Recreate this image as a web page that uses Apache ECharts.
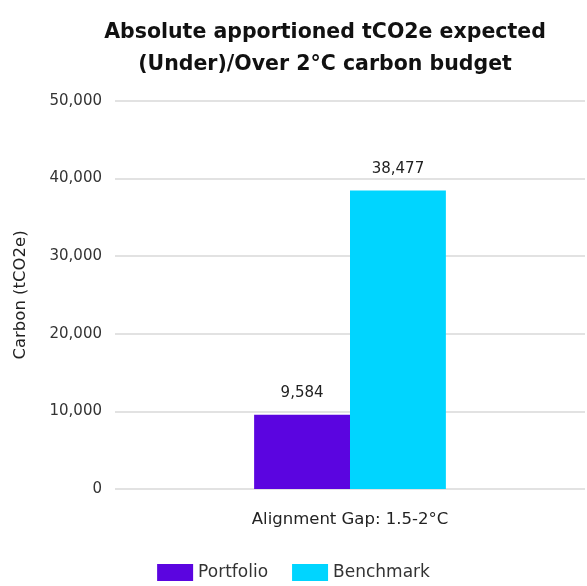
<!DOCTYPE html>
<html>
<head>
<meta charset="utf-8">
<script src="https://cdn.jsdelivr.net/npm/echarts@6/dist/echarts.min.js"></script>
<style>html,body{margin:0;padding:0;background:#fff;}#c{width:587px;height:586px;}</style>
</head>
<body>
<div id="c"></div>
<script>
const categories = ['Alignment Gap: 1.5-2°C'];
const portfolio = [9584];
const benchmark = [38477];
const yTicks = [0, 10000, 20000, 30000, 40000, 50000];

const chart = echarts.init(document.getElementById('c'));
const fmt = v => v.toLocaleString('en-US');
const font = '"DejaVu Sans", sans-serif';
chart.setOption({
  animation: false,
  title: {
    text: 'Absolute apportioned tCO2e expected\n(Under)/Over 2°C carbon budget',
    left: 320, top: 12, textAlign: 'center',
    textStyle: {fontFamily: font, fontWeight: 'bold', fontSize: 20.5, lineHeight: 32, color: '#111'}
  },
  legend: {
    bottom: 0, left: 'center', itemWidth: 36, itemHeight: 17, itemGap: 24,
    icon: 'rect',
    textStyle: {fontFamily: font, fontSize: 17, color: '#333'}
  },
  grid: {left: 115, right: 2, top: 101, bottom: 97},
  xAxis: {
    type: 'category', data: categories,
    axisLine: {show: false}, axisTick: {show: false},
    axisLabel: {fontFamily: font, fontSize: 16.5, color: '#222', margin: 22}
  },
  yAxis: {
    type: 'value', min: yTicks[0], max: yTicks[yTicks.length-1], interval: 10000,
    name: 'Carbon (tCO2e)', nameLocation: 'middle', nameGap: 86,
    nameTextStyle: {fontFamily: font, fontSize: 16.5, color: '#222'},
    axisLine: {show: false}, axisTick: {show: false},
    axisLabel: {fontFamily: font, fontSize: 15, color: '#333', margin: 13, formatter: fmt},
    splitLine: {lineStyle: {color: '#d9d9d9', width: 1.5}}
  },
  series: [
    {name: 'Portfolio', type: 'bar', data: portfolio, barWidth: '20.4%', barGap: '0%',
     itemStyle: {color: '#5B05E0'},
     label: {show: true, position: 'top', distance: 14, formatter: p => fmt(p.value), fontFamily: font, fontSize: 15, color: '#222'}},
    {name: 'Benchmark', type: 'bar', data: benchmark, barWidth: '20.4%',
     itemStyle: {color: '#00D5FF'},
     label: {show: true, position: 'top', distance: 14, formatter: p => fmt(p.value), fontFamily: font, fontSize: 15, color: '#222'}}
  ]
});
</script>
</body>
</html>
